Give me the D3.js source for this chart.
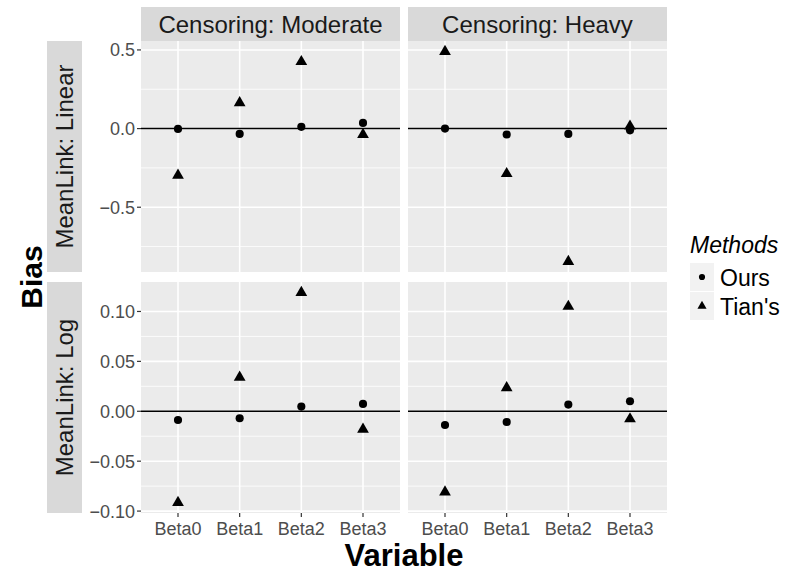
<!DOCTYPE html>
<html>
<head>
<meta charset="utf-8" />
<script src="https://cdn.jsdelivr.net/npm/d3@7"></script>
<style>
html, body { margin: 0; padding: 0; background: #fff; }
svg { font-family: "Liberation Sans", Arial, sans-serif; display: block; }
.strip rect { fill: #D9D9D9; }
.strip text { fill: #1A1A1A; font-size: 24px; }
.tick-label { fill: #4D4D4D; font-size: 18px; }
.tick-mark { stroke: #333; stroke-width: 1.2; }
.grid-major { stroke: #fff; stroke-width: 1.6; }
.grid-minor { stroke: #fff; stroke-width: 0.8; }
</style>
</head>
<body>
<div id="chart"></div>
<script>
// categories
var variables = ["Beta0", "Beta1", "Beta2", "Beta3"];
var censoring = ["Moderate", "Heavy"];
var links = ["Linear", "Log"];
var methods = ["Ours", "Tian's"];

// bias values (one array per panel and method)
var linearModerateOurs = [-0.002, -0.034, 0.011, 0.036];
var linearModerateTian = [-0.297, 0.164, 0.425, -0.038];
var linearHeavyOurs = [0.0, -0.038, -0.034, -0.011];
var linearHeavyTian = [0.49, -0.287, -0.845, 0.015];
var logModerateOurs = [-0.0087, -0.007, 0.0047, 0.0074];
var logModerateTian = [-0.0914, 0.034, 0.119, -0.018];
var logHeavyOurs = [-0.0137, -0.0107, 0.0067, 0.010];
var logHeavyTian = [-0.081, 0.0235, 0.105, -0.0077];

// tick values per row
var linearTicks = [-0.5, 0, 0.5];
var linearMinor = [-0.75, -0.25, 0.25];
var logTicks = [-0.10, -0.05, 0, 0.05, 0.10];
var logMinor = [-0.075, -0.025, 0.025, 0.075];

var W = 788, H = 576;
var colX = [141, 408], panelW = 259;
var rowY = [41, 282], panelH = 231;
var stripH = 34;

var svg = d3.select("#chart").append("svg")
	.attr("width", W).attr("height", H);

var panelData = {
	Linear: { Moderate: [linearModerateOurs, linearModerateTian], Heavy: [linearHeavyOurs, linearHeavyTian] },
	Log: { Moderate: [logModerateOurs, logModerateTian], Heavy: [logHeavyOurs, logHeavyTian] }
};
var rowTicks = { Linear: [linearTicks, linearMinor, d3.format(".1f")], Log: [logTicks, logMinor, d3.format(".2f")] };

var fmtMinus = function(f) {
	return function(v) { return f(v).replace("-", "\u2212"); };
};

var x = d3.scalePoint().domain(variables).range([0, panelW]).padding(0.6);

var circle = d3.symbol().type(d3.symbolCircle).size(52);
var triangle = d3.symbol().type(d3.symbolTriangle).size(60);

links.forEach(function(link, ri) {
	// shared y scale for the row, ggplot style 5% expansion
	var all = [];
	censoring.forEach(function(c) { all = all.concat(panelData[link][c][0], panelData[link][c][1]); });
	var ext = d3.extent(all), pad = (ext[1] - ext[0]) * 0.05;
	var y = d3.scaleLinear().domain([ext[0] - pad, ext[1] + pad]).range([panelH, 0]);
	var ticks = rowTicks[link][0], minor = rowTicks[link][1], fmt = fmtMinus(rowTicks[link][2]);

	censoring.forEach(function(cen, ci) {
		var g = svg.append("g").attr("transform", "translate(" + colX[ci] + "," + rowY[ri] + ")");
		g.append("rect").attr("width", panelW).attr("height", panelH).attr("fill", "#EBEBEB");

		g.selectAll(".grid-minor").data(minor).enter().append("line")
			.attr("class", "grid-minor")
			.attr("x1", 0).attr("x2", panelW)
			.attr("y1", function(d) { return y(d); }).attr("y2", function(d) { return y(d); });
		g.selectAll(".grid-h").data(ticks).enter().append("line")
			.attr("class", "grid-major grid-h")
			.attr("x1", 0).attr("x2", panelW)
			.attr("y1", function(d) { return y(d); }).attr("y2", function(d) { return y(d); });
		g.selectAll(".grid-v").data(variables).enter().append("line")
			.attr("class", "grid-major grid-v")
			.attr("y1", 0).attr("y2", panelH)
			.attr("x1", function(d) { return x(d); }).attr("x2", function(d) { return x(d); });

		// zero reference line
		g.append("line")
			.attr("x1", 0).attr("x2", panelW)
			.attr("y1", y(0)).attr("y2", y(0))
			.attr("stroke", "#000").attr("stroke-width", 1.5);

		var vals = panelData[link][cen];
		g.selectAll(".pt-ours").data(vals[0]).enter().append("path")
			.attr("d", circle)
			.attr("transform", function(d, i) { return "translate(" + x(variables[i]) + "," + y(d) + ")"; });
		g.selectAll(".pt-tian").data(vals[1]).enter().append("path")
			.attr("d", triangle)
			.attr("transform", function(d, i) { return "translate(" + x(variables[i]) + "," + y(d) + ")"; });

		// column strip
		if (ri === 0) {
			var s = svg.append("g").attr("class", "strip")
				.attr("transform", "translate(" + colX[ci] + "," + (rowY[0] - stripH) + ")");
			s.append("rect").attr("width", panelW).attr("height", stripH);
			s.append("text").attr("x", panelW / 2).attr("y", stripH / 2 + 8.5)
				.attr("text-anchor", "middle").text("Censoring: " + cen);
		}

		// x axis under bottom row
		if (ri === links.length - 1) {
			var ax = svg.append("g").attr("transform", "translate(" + colX[ci] + "," + (rowY[ri] + panelH) + ")");
			ax.selectAll("line").data(variables).enter().append("line")
				.attr("class", "tick-mark")
				.attr("x1", function(d) { return x(d); }).attr("x2", function(d) { return x(d); })
				.attr("y1", 0).attr("y2", 4);
			ax.selectAll("text").data(variables).enter().append("text")
				.attr("class", "tick-label")
				.attr("x", function(d) { return x(d); }).attr("y", 22)
				.attr("text-anchor", "middle").text(function(d) { return d; });
		}
	});

	// y axis on the left column
	var ay = svg.append("g").attr("transform", "translate(" + colX[0] + "," + rowY[ri] + ")");
	ay.selectAll("line").data(ticks).enter().append("line")
		.attr("class", "tick-mark")
		.attr("x1", -4).attr("x2", 0)
		.attr("y1", function(d) { return y(d); }).attr("y2", function(d) { return y(d); });
	ay.selectAll("text").data(ticks).enter().append("text")
		.attr("class", "tick-label")
		.attr("x", -6).attr("y", function(d) { return y(d) + 6.5; })
		.attr("text-anchor", "end").text(fmt);

	// row strip, switched to the left
	var rs = svg.append("g").attr("class", "strip").attr("transform", "translate(47," + rowY[ri] + ")");
	rs.append("rect").attr("width", 35).attr("height", panelH);
	rs.append("text")
		.attr("transform", "translate(26," + (panelH / 2) + ") rotate(-90)")
		.attr("text-anchor", "middle").text("MeanLink: " + link);
});

// axis titles
svg.append("text")
	.attr("x", (colX[0] + colX[1] + panelW) / 2).attr("y", 566)
	.attr("text-anchor", "middle")
	.attr("font-size", 31).attr("font-weight", "bold").attr("fill", "#000")
	.text("Variable");
svg.append("text")
	.attr("transform", "translate(42," + ((rowY[0] + rowY[1] + panelH) / 2) + ") rotate(-90)")
	.attr("text-anchor", "middle")
	.attr("font-size", 30).attr("font-weight", "bold").attr("fill", "#000")
	.text("Bias");

// legend
var leg = svg.append("g").attr("transform", "translate(690,253)");
leg.append("text").attr("x", 0).attr("y", 0)
	.attr("font-size", 23).attr("font-style", "italic").attr("fill", "#000")
	.text("Methods");
var shapes = [circle.size(30), triangle.size(36)];
methods.forEach(function(m, i) {
	var k = leg.append("g").attr("transform", "translate(0," + (10 + i * 29) + ")");
	k.append("rect").attr("width", 24).attr("height", 28).attr("fill", "#F2F2F2");
	k.append("path").attr("d", shapes[i]).attr("transform", "translate(12,14)");
	k.append("text").attr("x", 30).attr("y", 23)
		.attr("font-size", 23).attr("fill", "#000").text(m);
});
</script>
</body>
</html>
